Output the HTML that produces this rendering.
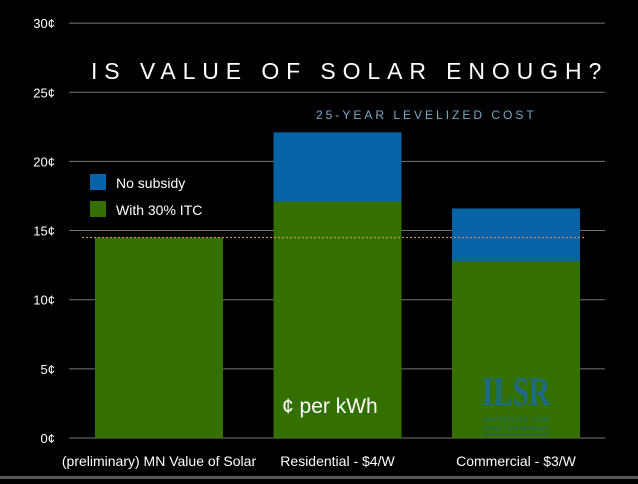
<!DOCTYPE html>
<html><head><meta charset="utf-8"><style>
body{margin:0;background:#000;width:638px;height:479px;overflow:hidden;font-family:"Liberation Sans",sans-serif}
svg text{font-family:"Liberation Sans",sans-serif}
svg text.serif{font-family:"Liberation Serif",serif}
</style></head><body>
<svg id="c" width="638" height="479">
<rect x="0" y="476" width="638" height="3" fill="#555"/>
<g id="grid"></g><g id="bars"></g>
<text x="91" y="79" fill="#fff" font-size="23" letter-spacing="6.9">IS VALUE OF SOLAR ENOUGH?</text>
<text x="316" y="119" fill="#79aac8" font-size="12" letter-spacing="3.0">25-YEAR LEVELIZED COST</text>
<g>
<rect x="90" y="174" width="16" height="16" fill="#0563a6"/>
<text x="116" y="188" fill="#fff" font-size="14">No subsidy</text>
<rect x="90" y="201" width="16" height="16" fill="#347000"/>
<text x="116" y="215" fill="#fff" font-size="14">With 30% ITC</text>
</g>
<text x="282" y="413" fill="#fff" font-size="21">¢ per kWh</text>
<g>
<text class="serif" x="482" y="405" fill="#1d6a8a" font-size="40" font-weight="bold" textLength="68" lengthAdjust="spacingAndGlyphs">ILSR</text>
<text class="serif" x="483" y="421" fill="#1d6a8a" font-size="5.5" textLength="66" lengthAdjust="spacingAndGlyphs">INSTITUTE FOR</text>
<text class="serif" x="483" y="430" fill="#1d6a8a" font-size="6" textLength="66" lengthAdjust="spacingAndGlyphs">Local Self-Reliance</text>
<line x1="483" x2="550" y1="434" y2="434" stroke="#1d5a6a" stroke-width="1"/>
</g>
</svg>
<script>
const categories=["(preliminary) MN Value of Solar","Residential - $4/W","Commercial - $3/W"];
const itcValues=[14.5,17.1,12.8];
const noSubsidyValues=[null,22.1,16.6];
const yTicks=[0,5,10,15,20,25,30];
const tickLabels=["0¢","5¢","10¢","15¢","20¢","25¢","30¢"];
const refValue=14.5;
const NS="http://www.w3.org/2000/svg";
const y=v=>438-v*13.83;
const x=i=>95+i*178.5;
const bw=128;
const g=document.getElementById('grid'),b=document.getElementById('bars');
function mk(tag,attrs,parent){const e=document.createElementNS(NS,tag);for(const k in attrs)e.setAttribute(k,attrs[k]);parent.appendChild(e);return e;}
yTicks.forEach((t,i)=>{
 const l=mk('line',{x1:69,x2:605,y1:y(t),y2:y(t),stroke:'#777','stroke-width':1},g);
 
 
 const tx=mk('text',{x:55,y:y(t)+5,fill:'#fff','font-size':13,'text-anchor':'end'},g);tx.textContent=tickLabels[i];
 
 
});
categories.forEach((c,i)=>{
 if(noSubsidyValues[i]!=null){
  const r=mk('rect',{x:x(i),y:y(noSubsidyValues[i]),width:bw,height:y(0)-y(noSubsidyValues[i]),fill:'#0563a6'},b);
  
  
 }
 const r2=mk('rect',{x:x(i),y:y(itcValues[i]),width:bw,height:y(0)-y(itcValues[i]),fill:'#347000'},b);
 
 
 const t=mk('text',{x:x(i)+bw/2,y:466,fill:'#fff','font-size':14,'text-anchor':'middle'},b);t.textContent=c;
 
 
});
const d=mk('line',{x1:82,x2:584,y1:y(refValue),y2:y(refValue),stroke:'#c98a5a','stroke-width':1.2,'stroke-dasharray':'2,2'},b);


</script>
</body></html>
